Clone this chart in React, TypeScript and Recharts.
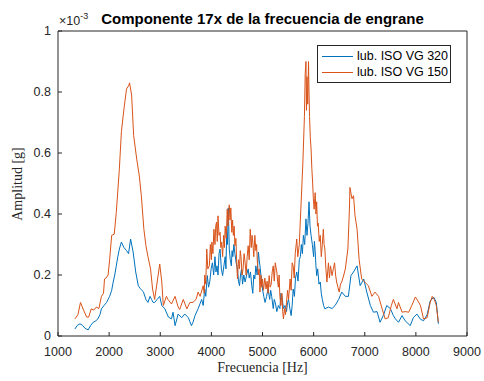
import { LineChart, Line, XAxis, YAxis } from "recharts";

// Amplitude values are in units of 1e-3 g (axis shows "x10^-3")
// [frecuencia Hz, amplitud]
const vg320: [number, number][] = [
  [1330, 0.023], [1380, 0.035], [1430, 0.04], [1480, 0.035], [1530, 0.025], [1590, 0.02],
  [1640, 0.035], [1690, 0.045], [1740, 0.05], [1780, 0.056], [1820, 0.07], [1850, 0.089],
  [1900, 0.1], [1950, 0.11], [1980, 0.12], [2010, 0.13], [2050, 0.15], [2080, 0.177],
  [2110, 0.2], [2140, 0.23], [2170, 0.26], [2200, 0.285], [2240, 0.308], [2290, 0.29],
  [2340, 0.28], [2380, 0.27], [2420, 0.318], [2470, 0.275], [2520, 0.21], [2570, 0.165],
  [2610, 0.155], [2670, 0.145], [2720, 0.12], [2760, 0.11], [2800, 0.13], [2830, 0.12],
  [2860, 0.11], [2890, 0.11], [2940, 0.12], [2990, 0.13], [3030, 0.1], [3090, 0.089],
  [3160, 0.062], [3220, 0.056], [3250, 0.078], [3290, 0.034], [3350, 0.072], [3420, 0.06],
  [3480, 0.072], [3550, 0.06], [3610, 0.034], [3640, 0.045], [3680, 0.067], [3740, 0.089],
  [3810, 0.12], [3840, 0.1], [3870, 0.154], [3890, 0.13], [3920, 0.198], [3945, 0.16],
  [3970, 0.18], [3995, 0.22], [4020, 0.24], [4045, 0.2], [4070, 0.26], [4090, 0.21],
  [4110, 0.23], [4130, 0.2], [4150, 0.27], [4170, 0.285], [4195, 0.22], [4220, 0.198],
  [4245, 0.23], [4270, 0.26], [4285, 0.22], [4300, 0.34], [4315, 0.3], [4330, 0.42],
  [4340, 0.36], [4350, 0.285], [4370, 0.25], [4390, 0.23], [4405, 0.28], [4420, 0.26],
  [4440, 0.3], [4460, 0.27], [4485, 0.24], [4510, 0.22], [4530, 0.18], [4550, 0.165],
  [4570, 0.2], [4590, 0.22], [4610, 0.17], [4635, 0.2], [4660, 0.177], [4690, 0.2],
  [4720, 0.22], [4740, 0.19], [4765, 0.21], [4790, 0.165], [4810, 0.14], [4830, 0.2],
  [4850, 0.187], [4870, 0.23], [4895, 0.2], [4920, 0.275], [4935, 0.25], [4950, 0.23],
  [4975, 0.19], [5000, 0.154], [5025, 0.13], [5050, 0.11], [5080, 0.13], [5110, 0.154],
  [5140, 0.12], [5160, 0.15], [5180, 0.13], [5210, 0.09], [5230, 0.12], [5250, 0.11],
  [5280, 0.08], [5310, 0.1], [5340, 0.09], [5360, 0.14], [5380, 0.13], [5410, 0.09],
  [5440, 0.1], [5470, 0.08], [5490, 0.11], [5510, 0.12], [5535, 0.09], [5560, 0.067],
  [5580, 0.1], [5600, 0.154], [5625, 0.13], [5645, 0.19], [5670, 0.21], [5695, 0.18],
  [5720, 0.25], [5740, 0.26], [5760, 0.3], [5780, 0.27], [5800, 0.33], [5825, 0.3],
  [5850, 0.384], [5870, 0.33], [5890, 0.37], [5910, 0.44], [5930, 0.36], [5950, 0.33],
  [5975, 0.3], [6000, 0.26], [6015, 0.31], [6030, 0.28], [6045, 0.23], [6060, 0.198],
  [6080, 0.22], [6105, 0.17], [6130, 0.177], [6150, 0.14], [6170, 0.12], [6195, 0.1],
  [6220, 0.089], [6290, 0.095], [6360, 0.09], [6420, 0.1], [6490, 0.12], [6550, 0.144],
  [6620, 0.13], [6680, 0.13], [6730, 0.198], [6780, 0.21], [6850, 0.23], [6910, 0.165],
  [6980, 0.187], [7040, 0.144], [7110, 0.1], [7170, 0.078], [7240, 0.08], [7300, 0.045],
  [7370, 0.07], [7430, 0.1], [7500, 0.09], [7560, 0.067], [7600, 0.056], [7660, 0.045],
  [7730, 0.067], [7790, 0.05], [7890, 0.034], [7950, 0.06], [8020, 0.072], [8090, 0.055],
  [8150, 0.05], [8220, 0.07], [8280, 0.115], [8350, 0.127], [8400, 0.11], [8440, 0.04],
];

const vg150: [number, number][] = [
  [1330, 0.056], [1390, 0.07], [1440, 0.11], [1500, 0.085], [1560, 0.062], [1600, 0.062],
  [1650, 0.089], [1700, 0.085], [1750, 0.095], [1800, 0.09], [1850, 0.13], [1890, 0.14],
  [1910, 0.187], [1940, 0.19], [1980, 0.2], [2010, 0.25], [2050, 0.33], [2100, 0.334],
  [2140, 0.405], [2200, 0.547], [2240, 0.67], [2290, 0.744], [2340, 0.81], [2380, 0.82],
  [2400, 0.83], [2440, 0.79], [2480, 0.657], [2540, 0.58], [2590, 0.525], [2630, 0.46],
  [2680, 0.35], [2720, 0.296], [2760, 0.26], [2810, 0.22], [2850, 0.154], [2890, 0.12],
  [2940, 0.177], [2990, 0.236], [3030, 0.177], [3060, 0.1], [3120, 0.13], [3150, 0.12],
  [3220, 0.105], [3290, 0.13], [3350, 0.095], [3380, 0.087], [3450, 0.12], [3520, 0.089],
  [3580, 0.11], [3640, 0.11], [3700, 0.12], [3740, 0.144], [3780, 0.13], [3840, 0.165],
  [3860, 0.14], [3870, 0.2], [3890, 0.17], [3910, 0.285], [3930, 0.22], [3960, 0.23],
  [3980, 0.3], [4000, 0.25], [4010, 0.308], [4030, 0.27], [4050, 0.35], [4070, 0.3],
  [4085, 0.36], [4100, 0.373], [4115, 0.31], [4130, 0.394], [4150, 0.33], [4170, 0.34],
  [4185, 0.29], [4200, 0.308], [4220, 0.26], [4240, 0.33], [4255, 0.29], [4270, 0.36],
  [4290, 0.32], [4310, 0.416], [4325, 0.36], [4350, 0.43], [4365, 0.38], [4380, 0.42],
  [4400, 0.34], [4415, 0.38], [4430, 0.33], [4445, 0.36], [4460, 0.296], [4480, 0.32],
  [4495, 0.24], [4510, 0.187], [4530, 0.25], [4550, 0.22], [4565, 0.28], [4580, 0.26],
  [4600, 0.2], [4620, 0.22], [4640, 0.27], [4660, 0.24], [4680, 0.2], [4700, 0.26],
  [4720, 0.296], [4740, 0.25], [4760, 0.35], [4780, 0.29], [4795, 0.33], [4810, 0.308],
  [4830, 0.26], [4850, 0.33], [4870, 0.28], [4885, 0.3], [4900, 0.24], [4920, 0.2],
  [4935, 0.22], [4950, 0.144], [4970, 0.2], [4985, 0.16], [5000, 0.187], [5020, 0.15],
  [5045, 0.19], [5070, 0.154], [5090, 0.18], [5110, 0.14], [5130, 0.198], [5150, 0.16],
  [5170, 0.17], [5190, 0.21], [5210, 0.23], [5230, 0.18], [5250, 0.24], [5280, 0.21],
  [5295, 0.18], [5310, 0.16], [5325, 0.2], [5340, 0.13], [5360, 0.1], [5380, 0.14],
  [5395, 0.08], [5410, 0.056], [5430, 0.09], [5450, 0.07], [5470, 0.11], [5490, 0.15],
  [5510, 0.12], [5540, 0.187], [5560, 0.15], [5580, 0.24], [5600, 0.23], [5620, 0.19],
  [5640, 0.27], [5670, 0.318], [5690, 0.26], [5720, 0.3], [5735, 0.36], [5750, 0.416],
  [5790, 0.57], [5820, 0.72], [5835, 0.86], [5850, 0.9], [5860, 0.74], [5870, 0.85],
  [5885, 0.76], [5900, 0.9], [5910, 0.8], [5920, 0.72], [5935, 0.65], [5950, 0.613],
  [5965, 0.55], [5980, 0.505], [5995, 0.45], [6010, 0.416], [6030, 0.47], [6045, 0.4],
  [6060, 0.44], [6075, 0.36], [6090, 0.37], [6110, 0.31], [6130, 0.33], [6150, 0.26],
  [6170, 0.3], [6190, 0.35], [6205, 0.3], [6220, 0.285], [6240, 0.22], [6260, 0.177],
  [6275, 0.21], [6290, 0.24], [6310, 0.19], [6330, 0.23], [6360, 0.198], [6385, 0.22],
  [6410, 0.24], [6430, 0.2], [6450, 0.177], [6475, 0.16], [6500, 0.144], [6525, 0.17],
  [6550, 0.177], [6590, 0.2], [6620, 0.22], [6670, 0.285], [6700, 0.416], [6710, 0.487],
  [6750, 0.45], [6780, 0.46], [6810, 0.394], [6850, 0.35], [6890, 0.25], [6940, 0.187],
  [7010, 0.175], [7070, 0.165], [7140, 0.13], [7200, 0.144], [7270, 0.13], [7340, 0.089],
  [7400, 0.056], [7460, 0.06], [7520, 0.1], [7560, 0.12], [7630, 0.089], [7660, 0.11],
  [7730, 0.078], [7790, 0.08], [7860, 0.078], [7920, 0.1], [7990, 0.128], [8040, 0.115],
  [8090, 0.1], [8150, 0.056], [8220, 0.06], [8280, 0.11], [8320, 0.13], [8360, 0.12],
  [8400, 0.1], [8440, 0.045],
];

const xTicks = [1000, 2000, 3000, 4000, 5000, 6000, 7000, 8000, 9000];
const yTicks = [0, 0.2, 0.4, 0.6, 0.8, 1];

const AXIS = "#262626";
const SANS = "'Liberation Sans', Arial, sans-serif";
const SERIF = "'Liberation Serif', 'Times New Roman', serif";

const series = [
  { name: "lub. ISO VG 320", color: "#0072BD", points: vg320 },
  { name: "lub. ISO VG 150", color: "#D95319", points: vg150 },
];

const toRows = (pts: [number, number][]) => pts.map(([f, a]) => ({ f, a }));

const tickStyle = { fill: AXIS, fontSize: 12.5, fontFamily: SANS };

export default function App() {
  return (
    <div style={{ position: "absolute", left: 0, top: 0, width: 484, height: 381, background: "#fff" }}>
      <LineChart width={484} height={381} margin={{ top: 1, right: 0, bottom: 1, left: 0 }}>
        <XAxis
          xAxisId="top"
          orientation="top"
          type="number"
          domain={[1000, 9000]}
          ticks={xTicks}
          height={30}
          tickSize={-4}
          tickFormatter={() => ""}
          stroke={AXIS}
        />
        <XAxis
          dataKey="f"
          type="number"
          domain={[1000, 9000]}
          ticks={xTicks}
          height={44}
          tickSize={-4}
          tickMargin={15}
          tick={tickStyle}
          stroke={AXIS}
        />
        <YAxis
          type="number"
          domain={[0, 1]}
          ticks={yTicks}
          width={58}
          tickSize={-4}
          tickMargin={11}
          tick={tickStyle}
          stroke={AXIS}
          tickFormatter={(v: number) => (v === 0 || v === 1 ? String(v) : v.toFixed(1))}
        />
        <YAxis
          yAxisId="right"
          orientation="right"
          type="number"
          domain={[0, 1]}
          ticks={yTicks}
          width={17}
          tickSize={-4}
          tickFormatter={() => ""}
          stroke={AXIS}
        />
        {series.map((s) => (
          <Line
            key={s.name}
            data={toRows(s.points)}
            dataKey="a"
            name={s.name}
            stroke={s.color}
            strokeWidth={1}
            dot={false}
            isAnimationActive={false}
          />
        ))}
      </LineChart>

      {/* legend box, upper right */}
      <div
        style={{
          position: "absolute", left: 317, top: 45, width: 134, boxSizing: "border-box",
          border: "1px solid #262626", background: "#fff", padding: "2px 0 2px 4px",
          fontFamily: SANS, fontSize: 12.5, color: "#000", lineHeight: "16px",
        }}
      >
        {series.map((s) => (
          <div key={s.name} style={{ display: "flex", alignItems: "center" }}>
            <span style={{ display: "inline-block", width: 31, borderTop: `1px solid ${s.color}`, marginRight: 4 }} />
            {s.name}
          </div>
        ))}
      </div>

      {/* title and axis labels */}
      <div
        style={{
          position: "absolute", left: 58, width: 409, top: 10, textAlign: "center",
          fontFamily: SANS, fontWeight: "bold", fontSize: 15, color: "#000",
        }}
      >
        Componente 17x de la frecuencia de engrane
      </div>
      <div style={{ position: "absolute", left: 59, top: 11, fontFamily: SANS, fontSize: 12.5, color: AXIS }}>
        ×10<sup style={{ fontSize: 9, verticalAlign: "6px" }}>-3</sup>
      </div>
      <div
        style={{
          position: "absolute", left: 58, width: 409, top: 360, textAlign: "center",
          fontFamily: SERIF, fontSize: 14, color: AXIS,
        }}
      >
        Frecuencia [Hz]
      </div>
      <div
        style={{
          position: "absolute", left: 18, top: 184, transform: "translate(-50%, -50%) rotate(-90deg)",
          whiteSpace: "nowrap", fontFamily: SERIF, fontSize: 14, color: AXIS,
        }}
      >
        Amplitud [g]
      </div>
    </div>
  );
}
